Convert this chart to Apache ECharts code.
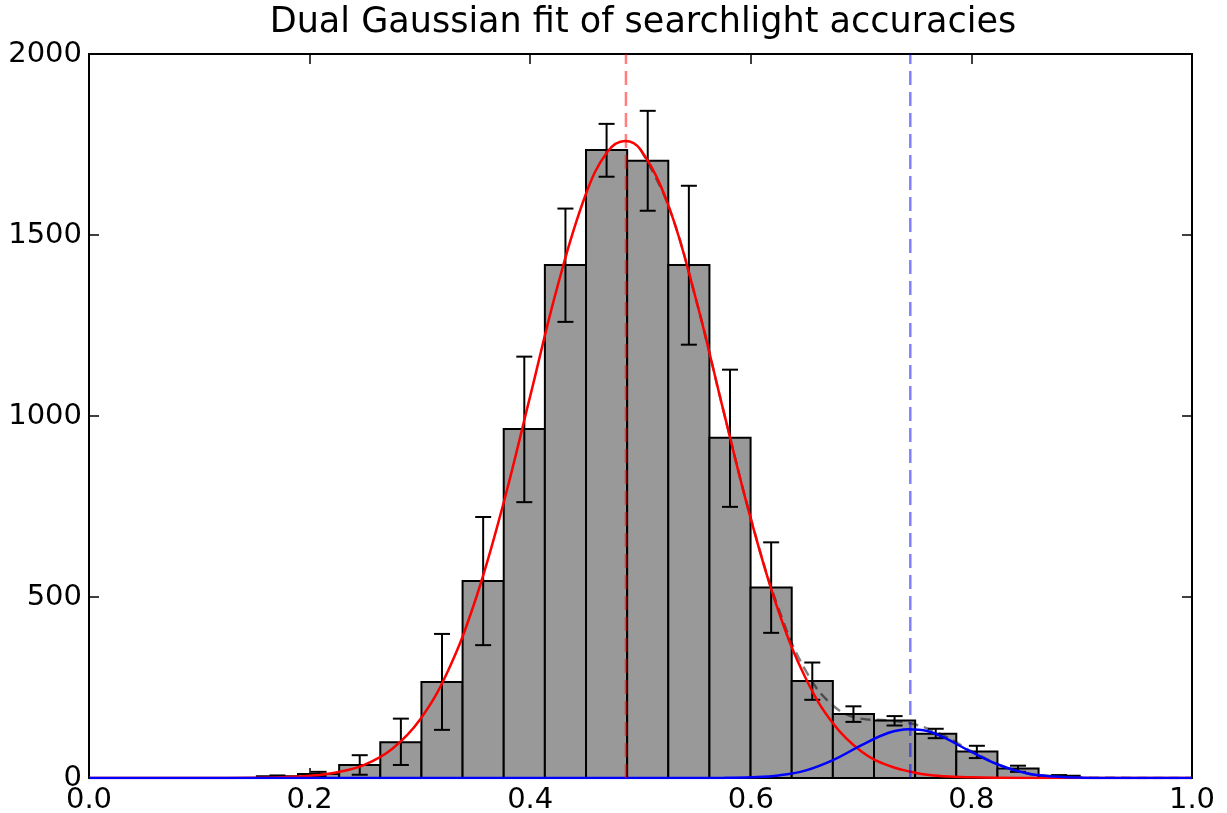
<!DOCTYPE html>
<html style="height: 100%; width:100%">
<head>
    <meta charset="utf-8">
    <script type="text/javascript" src="https://cdn.jsdelivr.net/npm/echarts@6/dist/echarts.min.js"></script>
</head>
<body style="height: 100%; width: 100%; margin: 0; background:#fff">
<div id="container" style="height: 813px;width:1227px"></div>
<script type="text/javascript">
    // histogram bins
    var binStart = 0.1522, binWidth = 0.0373;
    var counts  = [5, 11, 36, 99, 265, 544, 964, 1417, 1735, 1705, 1417, 940, 526, 268, 177, 159, 122, 73, 26, 6];
    var errLow  = [3, 5, 9, 36, 133, 367, 762, 1260, 1661, 1567, 1197, 749, 401, 216, 155, 145, 110, 55, 17, 4];
    var errHigh = [7, 17, 63, 164, 398, 721, 1164, 1573, 1807, 1843, 1636, 1128, 651, 319, 198, 171, 136, 89, 34, 8];

    // fitted curves
    var redFit = [[0,0],[0.1,0],[0.15,0.7],[0.175,2],[0.2,6],[0.225,16],[0.25,37],[0.275,81],[0.3,161],[0.325,293],
        [0.35,489],[0.375,750],[0.4,1055],[0.425,1361],[0.45,1609],[0.47,1730],[0.486,1760],[0.5,1736],[0.525,1584],
        [0.55,1326],[0.575,1017],[0.6,716],[0.625,462],[0.65,274],[0.675,149],[0.7,74],[0.725,34],[0.75,14],[0.775,5],
        [0.8,2],[0.85,0.3],[0.9,0],[1,0]];
    var blueFit = [[0,0],[0.5,0],[0.55,0],[0.575,0.3],[0.6,2],[0.625,7],[0.65,21],[0.675,50],[0.7,90],[0.725,125],
        [0.743,135],[0.76,130],[0.775,112],[0.8,72],[0.825,36],[0.85,13],[0.875,4],[0.9,1],[0.95,0],[1,0]];
    var sumFit = [[0.5,1736],[0.525,1584],[0.55,1326],[0.575,1017],[0.6,718],[0.625,469],[0.65,295],[0.675,199],
        [0.7,164],[0.725,159],[0.75,147],[0.775,117],[0.8,74],[0.825,37],[0.85,13],[0.875,4],[0.9,1],[1,0]];
    var redMean = 0.4868, blueMean = 0.7446;

    var xTicks = ["0.0", "0.2", "0.4", "0.6", "0.8", "1.0"];
    var yTicks = ["0", "500", "1000", "1500", "2000"];

    var barData = [], errData = [];
    for (var i = 0; i < counts.length; i++) {
        var l = binStart + i * binWidth;
        barData.push([l, l + binWidth, counts[i]]);
        errData.push([l + binWidth / 2, errLow[i], errHigh[i]]);
    }

    var font = "DejaVu Sans";
    var dom = document.getElementById("container");
    var myChart = echarts.init(dom);

    var axisCommon = {
        axisLine: {show: true, onZero: false, lineStyle: {color: "#000", width: 2}},
        axisTick: {show: true, inside: true, length: 10, lineStyle: {color: "#000", width: 1.5}},
        splitLine: {show: false}
    };

    // markLine rounds x to the axis precision, so the mean lines are plain line series
    function meanLine(x, color) {
        return {
            type: "line", z: 6, data: [[x, 0], [x, 2000]], showSymbol: false, silent: true,
            lineStyle: {color: color, width: 2.5, type: [14, 7]}
        };
    }

    var option = {
        animation: false,
        title: {
            text: "Dual Gaussian fit of searchlight accuracies",
            left: 638, top: 0, textAlign: "center",
            textStyle: {fontFamily: font, fontSize: 35, fontWeight: "normal", color: "#000"}
        },
        grid: {left: 89, right: 35, top: 54, bottom: 35, containLabel: false, outerBoundsMode: "none"},
        xAxis: [
            Object.assign({}, axisCommon, {
                type: "value", position: "bottom", min: 0, max: 1, interval: 0.2,
                axisLabel: {fontFamily: font, fontSize: 29, color: "#000", margin: 8,
                    formatter: function (v) { return xTicks[Math.round(v * 5)]; }}
            }),
            Object.assign({}, axisCommon, {
                type: "value", position: "top", min: 0, max: 1, interval: 0.2,
                axisLabel: {show: false}
            })
        ],
        yAxis: [
            Object.assign({}, axisCommon, {
                type: "value", position: "left", min: 0, max: 2000, interval: 500,
                axisLabel: {fontFamily: font, fontSize: 29, color: "#000", margin: 7,
                    formatter: function (v) { return yTicks[Math.round(v / 500)]; }}
            }),
            Object.assign({}, axisCommon, {
                type: "value", position: "right", min: 0, max: 2000, interval: 500,
                axisLabel: {show: false}
            })
        ],
        series: [
            {
                type: "custom", z: 1,
                data: barData,
                encode: {x: [0, 1], y: 2},
                renderItem: function (params, api) {
                    var p0 = api.coord([api.value(0), api.value(2)]);
                    var p1 = api.coord([api.value(1), 0]);
                    return {
                        type: "rect",
                        shape: {x: p0[0], y: p0[1], width: p1[0] - p0[0], height: p1[1] - p0[1]},
                        style: {fill: "#999999", stroke: "#000", lineWidth: 2}
                    };
                }
            },
            {
                type: "custom", z: 2,
                data: errData,
                encode: {x: 0, y: [1, 2]},
                renderItem: function (params, api) {
                    var lo = api.coord([api.value(0), api.value(1)]);
                    var hi = api.coord([api.value(0), api.value(2)]);
                    var c = 8;
                    var st = {stroke: "#000", lineWidth: 2};
                    return {
                        type: "group",
                        children: [
                            {type: "line", shape: {x1: lo[0], y1: lo[1], x2: hi[0], y2: hi[1]}, style: st},
                            {type: "line", shape: {x1: lo[0] - c, y1: lo[1], x2: lo[0] + c, y2: lo[1]}, style: st},
                            {type: "line", shape: {x1: hi[0] - c, y1: hi[1], x2: hi[0] + c, y2: hi[1]}, style: st}
                        ]
                    };
                }
            },
            {
                type: "line", z: 3, data: sumFit, smooth: 0.4, showSymbol: false,
                lineStyle: {color: "rgba(0,0,0,0.5)", width: 2.5, type: [10, 6]}
            },
            {
                type: "line", z: 4, data: redFit, smooth: 0.4, showSymbol: false,
                lineStyle: {color: "#ff0000", width: 2.5}
            },
            {
                type: "line", z: 5, data: blueFit, smooth: 0.4, showSymbol: false,
                lineStyle: {color: "#0000ff", width: 2.5}
            },
            meanLine(redMean, "rgba(255,0,0,0.5)"),
            meanLine(blueMean, "rgba(0,0,255,0.5)")
        ]
    };
    myChart.setOption(option, true);
</script>
</body>
</html>
